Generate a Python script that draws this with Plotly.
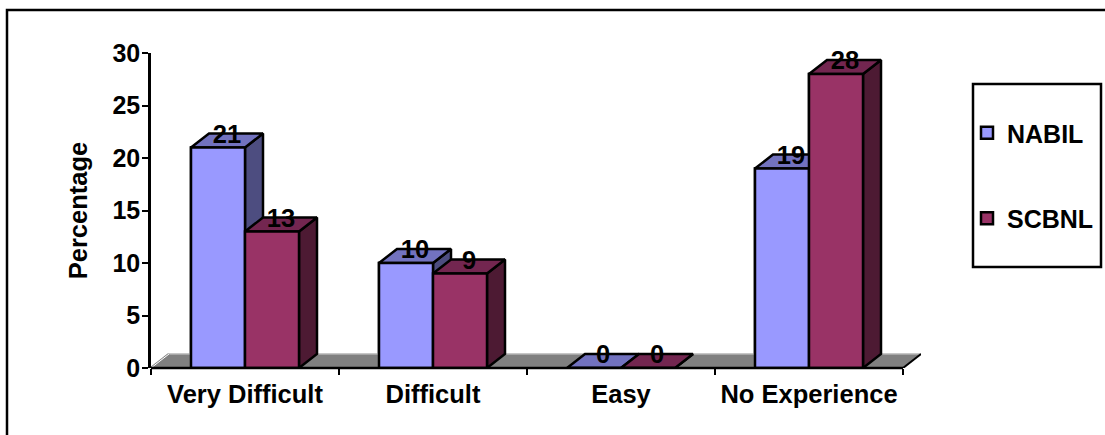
import plotly.graph_objects as go

categories = ["Very Difficult", "Difficult", "Easy", "No Experience"]
nabil = [21, 10, 0, 19]
scbnl = [13, 9, 0, 28]
y_ticks = [0, 5, 10, 15, 20, 25, 30]

W, H = 1105, 435
L, R, T, B = 151, 921, 53, 368
FONT = "Liberation Sans"
TXT = dict(family=FONT, size=25.5, color="#000000", weight="bold")
TXT_Y = dict(family=FONT, size=25, color="#000000", weight="bold")
TXT_LEG = dict(family=FONT, size=25, color="#000000", weight="bold")
LW = 2.5
CAT_PX = 188
BAR_W = 54 / CAT_PX
DX = 18 / CAT_PX
DY = 14 / 10.5
n = len(categories)


def px(v):
    return (v - L) / (R - L)


def py(v):
    return (B - v) / (B - T)


series = [
    ("NABIL", nabil, "#9999FF", "#7272BF", "#4D4D80", -1),
    ("SCBNL", scbnl, "#993366", "#732650", "#4D1A33", 0),
]

fig = go.Figure()

# real bars: they give the legend and the base of the front faces
for (name, vals, front, top, side, k) in series:
    fig.add_trace(go.Bar(
        x=categories, y=vals, name=name,
        marker=dict(color=front, line=dict(color="#000000", width=LW)),
        legendgroup=name, hoverinfo="skip"))


def poly(xs, ys, fill, lw=LW, lc="#000000"):
    fig.add_trace(go.Scatter(
        x=xs, y=ys, xaxis="x2", yaxis="y", mode="lines", fill="toself",
        fillcolor=fill, line=dict(color=lc, width=lw), hoverinfo="skip",
        showlegend=False, cliponaxis=False))


def seg(xs, ys, color, width):
    fig.add_trace(go.Scatter(x=xs, y=ys, xaxis="x2", yaxis="y", mode="lines",
                             line=dict(color=color, width=width), hoverinfo="skip",
                             showlegend=False, cliponaxis=False))


# floor
poly([0, DX, n + DX, n, 0], [0, DY, DY, 0, 0], "#808080", lw=0, lc="#808080")
seg([DX, n + DX], [DY, DY], "#B4B4B4", 1.5)
seg([0, DX], [0, DY], "#808080", 2.5)
seg([0, DX], [0, DY], "#FFFFFF", 1)
seg([n, n + DX], [0, DY], "#000000", 2)

# 3D faces, back to front
for i in range(n):
    for (name, vals, front, top, side, k) in series:
        v = vals[i]
        x0 = i + 0.5 + k * BAR_W
        x1 = x0 + BAR_W
        poly([x1, x1 + DX, x1 + DX, x1, x1], [0, DY, v + DY, v, 0], side)
        poly([x0, x0 + DX, x1 + DX, x1, x0], [v, v + DY, v + DY, v, v], top)
        poly([x0, x1, x1, x0, x0], [0, 0, v, v, 0], front)

# data labels
for (name, vals, front, top, side, k) in series:
    fig.add_trace(go.Scatter(
        x=[i + 0.5 + k * BAR_W + BAR_W / 2 + DX / 2 for i in range(n)],
        y=[v + DY / 2 + 0.4 for v in vals],
        text=[str(v) for v in vals], xaxis="x2", yaxis="y", mode="text",
        textposition="middle center", textfont=TXT,
        hoverinfo="skip", showlegend=False, cliponaxis=False))

fig.update_layout(
    width=W, height=H,
    margin=dict(l=L, r=W - R, t=T, b=H - B, autoexpand=False),
    paper_bgcolor="#FFFFFF", plot_bgcolor="rgba(0,0,0,0)",
    barmode="group", bargap=1 - 2 * BAR_W, bargroupgap=0,
    font=TXT,
    xaxis=dict(type="category", range=[-0.5, n - 0.5 + DX], tickson="boundaries", ticks="outside",
               ticklen=6, tickwidth=2, tickcolor="#000000", showline=False,
               showgrid=False, zeroline=False, tickfont=TXT, ticklabelstandoff=8,
               categoryorder="array", categoryarray=categories),
    xaxis2=dict(overlaying="x", range=[0, n + DX], visible=False, fixedrange=True),
    yaxis=dict(range=[0, 30], tickvals=y_ticks, ticks="outside", ticklen=6, tickwidth=2,
               tickcolor="#000000", showline=True, linecolor="#000000", linewidth=2.5,
               showgrid=False, zeroline=False, tickfont=TXT_Y, ticklabelstandoff=-3,
               title=dict(text="Percentage", standoff=18, font=TXT)),
    legend=dict(x=px(967), y=py(110), xref="paper", yref="paper", xanchor="left", yanchor="top",
                tracegroupgap=50, traceorder="grouped", bgcolor="rgba(0,0,0,0)", font=TXT_LEG),
    shapes=[
        dict(type="line", xref="x2", yref="paper", x0=0, x1=n, y0=0, y1=0,
             line=dict(color="#000000", width=2.5), layer="above"),
        dict(type="rect", xref="paper", yref="paper", x0=px(7), x1=px(1120), y0=py(450), y1=py(10),
             line=dict(color="#000000", width=2.5), layer="below"),
        dict(type="rect", xref="paper", yref="paper", x0=px(973), x1=px(1101), y0=py(267), y1=py(84),
             line=dict(color="#000000", width=2.5), layer="below"),
    ],
)
fig.write_html("out.html", config={"displayModeBar": False},
               post_script="document.body.style.margin='0';")
